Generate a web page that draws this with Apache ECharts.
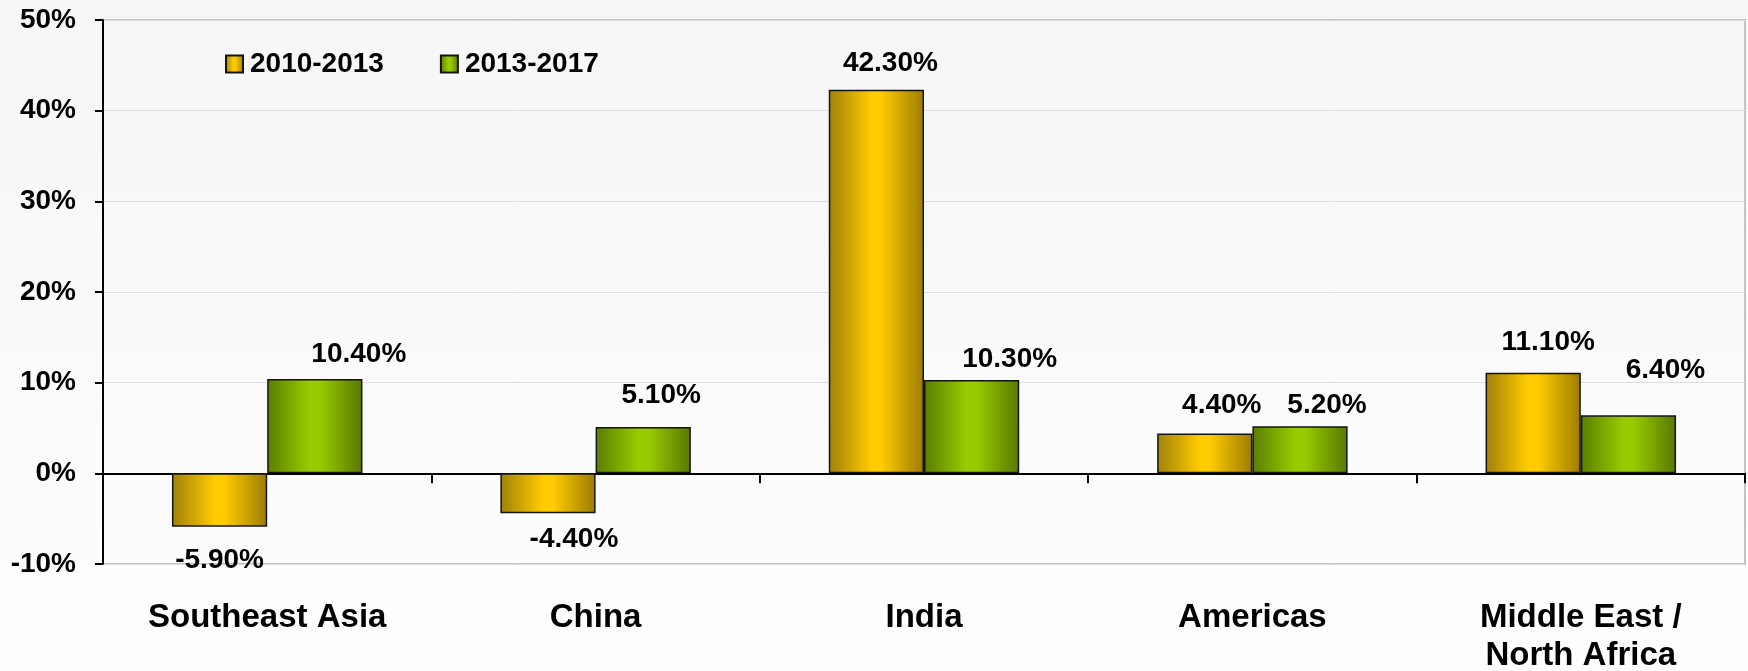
<!DOCTYPE html>
<html>
<head>
<meta charset="utf-8">
<style>
  html, body { margin: 0; padding: 0; }
  #chart { width: 1748px; height: 671px; }
</style>
<script src="https://cdn.jsdelivr.net/npm/echarts@6/dist/echarts.min.js"></script>
</head>
<body>
<div id="chart"></div>
<script>
// Regions along the x axis
const regions = ['Southeast Asia', 'China', 'India', 'Americas', 'Middle East /\nNorth Africa'];
// Growth rates, in percent
const growth2010to2013 = [-5.9, -4.4, 42.3, 4.4, 11.1];
const growth2013to2017 = [10.4, 5.1, 10.3, 5.2, 6.4];
const seriesNames = ['2010-2013', '2013-2017'];
// Y axis range and step, in percent
const yMin = -10, yMax = 50, yStep = 10;

// Hand-placed nudges [dx, dy] for each value label, per series
const labelNudgeA = [[0, 5], [26, -2], [14, 1], [17, 0], [15, -2]];
const labelNudgeB = [[44, 3], [18, -4], [38, 7], [27, 7], [37, -17]];

const FONT = '"Liberation Sans", Arial, sans-serif';

function barGradient(edgeL, mid, edgeR) {
  return new echarts.graphic.LinearGradient(0, 0, 1, 0, [
    { offset: 0, color: edgeL },
    { offset: 0.45, color: mid },
    { offset: 0.55, color: mid },
    { offset: 1, color: edgeR }
  ]);
}

function buildData(values, nudges) {
  return values.map((v, i) => ({
    value: v,
    label: {
      position: v < 0 ? 'bottom' : 'top',
      offset: nudges[i]
    }
  }));
}

const chart = echarts.init(document.getElementById('chart'), null, { renderer: 'canvas' });

const labelStyle = {
  show: true,
  distance: 14,
  fontFamily: FONT,
  fontWeight: 'bold',
  fontSize: 28,
  color: '#000',
  formatter: p => p.value.toFixed(2) + '%'
};

chart.setOption({
  backgroundColor: new echarts.graphic.LinearGradient(0, 0, 0, 1, [
    { offset: 0, color: '#f6f6f6' },
    { offset: 1, color: '#fefefe' }
  ]),
  animation: false,
  textStyle: { fontFamily: FONT },
  legend: {
    left: 220,
    top: 45,
    icon: 'rect',
    itemWidth: 17,
    itemHeight: 17,
    itemGap: 56,
    textStyle: { fontFamily: FONT, fontWeight: 'bold', fontSize: 28, color: '#000', padding: [0, 0, 0, 2] },
    data: seriesNames
  },
  grid: {
    left: 103,
    right: 3,
    top: 20,
    bottom: 107,
    containLabel: false,
    outerBoundsMode: 'none',
    show: true,
    borderColor: '#c4c4c4',
    borderWidth: 2,
    backgroundColor: 'transparent'
  },
  xAxis: {
    type: 'category',
    data: regions,
    axisLine: { onZero: true, lineStyle: { color: '#000', width: 2 } },
    axisTick: { show: true, length: 10, interval: 0, lineStyle: { color: '#000', width: 2 } },
    axisLabel: {
      interval: 0,
      margin: 35,
      fontFamily: FONT,
      fontWeight: 'bold',
      fontSize: 33,
      lineHeight: 38,
      color: '#000'
    },
    splitLine: { show: false }
  },
  yAxis: {
    type: 'value',
    min: yMin,
    max: yMax,
    interval: yStep,
    axisLine: { show: true, lineStyle: { color: '#000', width: 2 } },
    axisTick: { show: true, length: 8, lineStyle: { color: '#000', width: 2 } },
    axisLabel: {
      margin: 27,
      fontFamily: FONT,
      fontWeight: 'bold',
      fontSize: 28,
      color: '#000',
      formatter: v => v + '%'
    },
    splitLine: { show: true, lineStyle: { color: '#dedede', width: 1 } }
  },
  series: [
    {
      name: seriesNames[0],
      type: 'bar',
      barGap: '0%',
      barCategoryGap: '42%',
      data: buildData(growth2010to2013, labelNudgeA),
      itemStyle: {
        color: barGradient('#a0800a', '#ffcc00', '#9c7c00'),
        borderColor: '#141414',
        borderWidth: 1.5
      },
      label: labelStyle
    },
    {
      name: seriesNames[1],
      type: 'bar',
      barGap: '0%',
      barCategoryGap: '42%',
      data: buildData(growth2013to2017, labelNudgeB),
      itemStyle: {
        color: barGradient('#5a7e00', '#99cc00', '#587800'),
        borderColor: '#141414',
        borderWidth: 1.5
      },
      label: labelStyle
    }
  ]
});
</script>
</body>
</html>
